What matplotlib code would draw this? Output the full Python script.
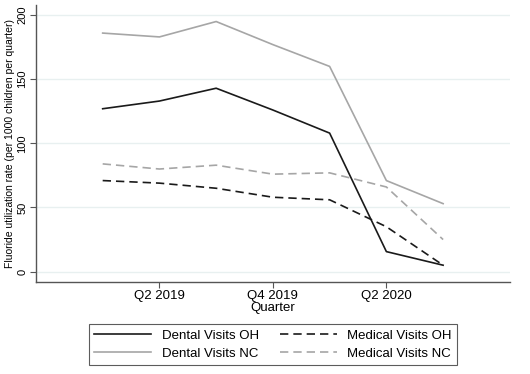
import numpy as np
import matplotlib
matplotlib.use('Agg')
import matplotlib.pyplot as plt

quarters = ['Q1 2019', 'Q2 2019', 'Q3 2019', 'Q4 2019', 'Q1 2020', 'Q2 2020', 'Q3 2020']
dental_oh = [127, 133, 143, 126, 108, 15.6, 5]
medical_oh = [71, 69, 65, 58, 56, 35, 5]
dental_nc = [186, 183, 195, 177, 160, 71, 53]
medical_nc = [84, 80, 83, 76, 77, 66, 25]
tick_labels = ['Q2 2019', 'Q4 2019', 'Q2 2020']

plt.rcParams['font.family'] = ['Liberation Sans', 'DejaVu Sans']
x = np.arange(len(quarters))

fig = plt.figure(figsize=(5.3, 3.74), dpi=100)
ax = fig.add_axes([0.0674, 0.247, 0.895, 0.74])

black = '#1a1a1a'
gray = '#a6a6a6'
ax.plot(x, dental_oh, color=black, lw=1.2, label='Dental Visits OH')
ax.plot(x, medical_oh, color=black, lw=1.2, dashes=(5, 3), label='Medical Visits OH')
ax.plot(x, dental_nc, color=gray, lw=1.2, label='Dental Visits NC')
ax.plot(x, medical_nc, color=gray, lw=1.2, dashes=(5, 3), label='Medical Visits NC')

ax.set_xlim(-1.18, 7.18)
ax.set_ylim(-7.8, 208)
ax.set_xticks([1, 3, 5])
ax.set_xticklabels(tick_labels, fontsize=9.5)
ax.set_yticks([0, 50, 100, 150, 200])
ax.set_yticklabels(['0', '50', '100', '150', '200'], fontsize=8, rotation=90, va='center')
ax.yaxis.grid(True, color='#e8f0f0', lw=1)
ax.set_axisbelow(True)
for s in ['top', 'right']:
    ax.spines[s].set_visible(False)
for s in ['left', 'bottom']:
    ax.spines[s].set_color('#555555')
    ax.spines[s].set_linewidth(1)
ax.tick_params(axis='both', length=4, width=0.8, color='#555555', pad=2)
ax.set_xlabel('Quarter', fontsize=9.5, labelpad=0)
ax.set_ylabel('Fluoride utilization rate (per 1000 children per quarter)', fontsize=7.5, labelpad=2)

h, l = ax.get_legend_handles_labels()
order = [0, 2, 1, 3]
leg = fig.legend([h[i] for i in order], [l[i] for i in order], ncol=2, loc='center',
                 bbox_to_anchor=(0.515, 0.078), fontsize=9.5, frameon=True, fancybox=False,
                 edgecolor='#333333', handlelength=4.3, columnspacing=1.6,
                 labelspacing=0.45, borderpad=0.4, handletextpad=0.8)
leg.get_frame().set_linewidth(0.8)

fig.savefig('out.png', dpi=100)
